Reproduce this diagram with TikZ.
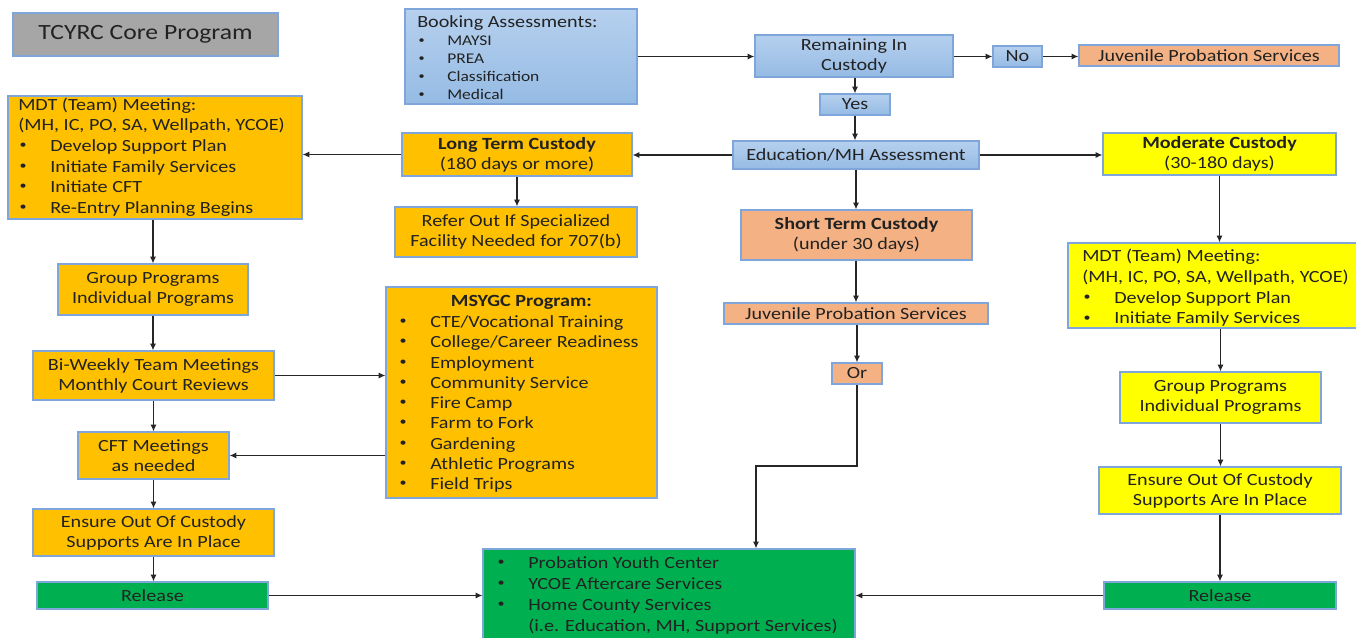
\documentclass[tikz,border=0pt]{standalone}
\usepackage{fontspec}
\setmainfont{Carlito}[FakeStretch=1.18]
\usetikzlibrary{arrows.meta,shadows}
\definecolor{bdr}{HTML}{7FA6DA}
\definecolor{bluetop}{HTML}{B6D0EE}
\definecolor{bluebot}{HTML}{95BBE4}
\definecolor{orng}{HTML}{FFC000}
\definecolor{salmon}{HTML}{F4B183}
\definecolor{yel}{HTML}{FFFF00}
\definecolor{grn}{HTML}{00B050}
\definecolor{gry}{HTML}{A6A6A6}
\definecolor{txt}{HTML}{222222}
\newcommand\smbul{\raisebox{0.35ex}{\scalebox{0.7}{\textbullet}}}
\newcommand\itm[1]{\makebox[24pt][l]{\hspace{1pt}\smbul}#1}
\newcommand\itmb[1]{\makebox[22.5pt][l]{\hspace{1pt}\smbul}#1}
\tikzset{
  every node/.style={text=txt},
  basebox/.style={draw=bdr, line width=0.9pt, inner sep=0pt, align=center,
    drop shadow={shadow xshift=0.8pt, shadow yshift=-0.8pt, opacity=0.25, fill=black},
    font=\fontsize{12.8}{15}\selectfont},
  bluebox/.style={basebox, top color=bluetop, bottom color=bluebot},
  orbox/.style={basebox, fill=orng},
  sabox/.style={basebox, fill=salmon},
  yebox/.style={basebox, fill=yel},
  grbox/.style={basebox, fill=grn},
  grybox/.style={basebox, fill=gry},
  sz/.style n args={2}{minimum width=#1pt, minimum height=#2pt},
  listtxt/.style={align=left, inner sep=0pt, anchor=west, font=\fontsize{12.8}{15.5}\selectfont},
  conn/.style={draw=black!85, line width=0.9pt, -{Latex[length=5pt,width=4.5pt]}}
}
\begin{document}
\begin{tikzpicture}[x=0.75pt,y=-0.75pt]
\useasboundingbox (0,0) rectangle (1356,638);
\fill[white] (0,0) rectangle (1356,638);
% title
\node[grybox, sz={198.75}{32.25}, font=\fontsize{16.3}{19}\selectfont] (title) at (145.5,34.5) {TCYRC Core Program};
% booking
\node[bluebox, sz={174}{71.25}] (booking) at (521,56.5) {};
\node[listtxt, font=\fontsize{11.1}{13.5}\selectfont] (bookingtxt) at (417,58) {{\fontsize{12.8}{13.5}\selectfont Booking Assessments:}\\
\itmb{MAYSI}\\ \itmb{PREA}\\ \itmb{Classification}\\ \itmb{Medical}};
\node[bluebox, sz={148.5}{31.5}] (remain) at (854,56) {Remaining In\\Custody};
\node[bluebox, sz={36.75}{15.75}] (no) at (1017.5,56.5) {No};
\node[sabox, sz={195}{15.75}] (jps1) at (1209,55.5) {Juvenile Probation Services};
\node[bluebox, sz={52.5}{15.75}] (yes) at (855,104.5) {Yes};
\node[bluebox, sz={184.5}{21}] (edu) at (856,155) {Education/MH Assessment};
\node[yebox, sz={174.75}{31.5}] (moderate) at (1219.5,154) {\textbf{Moderate Custody}\\(30-180 days)};
\node[sabox, sz={173.25}{37.5}] (short) at (856.5,235) {\textbf{Short Term Custody}\\(under 30 days)};
\node[orbox, sz={172.5}{32.25}] (long) at (517,154.5) {\textbf{Long Term Custody}\\(180 days or more)};
\node[orbox, sz={181.5}{37.5}] (refer) at (516,232) {Refer Out If Specialized\\Facility Needed for 707(b)};
% left MDT
\node[orbox, sz={220.5}{92.25}] (mdtL) at (155,157.5) {};
\node[listtxt] (mdtLtxt) at (18,157) {MDT (Team) Meeting:\\(MH, IC, PO, SA, Wellpath, YCOE)\\
\itm{Develop Support Plan}\\ \itm{Initiate Family Services}\\ \itm{Initiate CFT}\\ \itm{Re-Entry Planning Begins}};
\node[orbox, sz={142.5}{38.25}] (groupL) at (153,289.5) {Group Programs\\Individual Programs};
\node[orbox, sz={180.75}{36.75}] (biweekly) at (153.5,375.5) {Bi-Weekly Team Meetings\\Monthly Court Reviews};
\node[orbox, sz={113.25}{35.25}] (cft) at (153.5,455.5) {CFT Meetings\\as needed};
\node[orbox, sz={180.75}{35.25}] (ensureL) at (153.5,532.5) {Ensure Out Of Custody\\Supports Are In Place};
\node[grbox, sz={173.25}{20.25}] (releaseL) at (152.5,595.5) {Release};
% MSYGC
\node[orbox, sz={203.25}{158.25}] (msygc) at (521.5,392.5) {};
\node[inner sep=0pt, font=\fontsize{12.8}{15}\selectfont\bfseries] (msygctitle) at (521.5,302) {MSYGC Program:};
\node[listtxt, font=\fontsize{12.8}{15.2}\selectfont] (msygctxt) at (398,404) {\itm{CTE/Vocational Training}\\ \itm{College/Career Readiness}\\
\itm{Employment}\\ \itm{Community Service}\\ \itm{Fire Camp}\\ \itm{Farm to Fork}\\ \itm{Gardening}\\ \itm{Athletic Programs}\\ \itm{Field Trips}};
% green
\node[grbox, sz={279}{68.25}] (green) at (669,594.5) {};
\node[listtxt, font=\fontsize{12.8}{15.75}\selectfont] (greentxt) at (496,595.5) {\itm{Probation Youth Center}\\ \itm{YCOE Aftercare Services}\\
\itm{Home County Services}\\ \hspace*{24pt}(i.e. Education, MH, Support Services)};
% middle column
\node[sabox, sz={198}{15.75}] (jps2) at (856,313.5) {Juvenile Probation Services};
\node[sabox, sz={37.5}{15.75}] (or) at (857,373.5) {Or};
% right column
\node[yebox, sz={223.5}{63.75}] (mdtR) at (1217,285.5) {};
\node[listtxt] (mdtRtxt) at (1082,288) {MDT (Team) Meeting:\\(MH, IC, PO, SA, Wellpath, YCOE)\\
\itm{Develop Support Plan}\\ \itm{Initiate Family Services}};
\node[yebox, sz={150.75}{38.25}] (groupR) at (1220.5,397.5) {Group Programs\\Individual Programs};
\node[yebox, sz={181.5}{35.25}] (ensureR) at (1220,490.5) {Ensure Out Of Custody\\Supports Are In Place};
\node[grbox, sz={174}{20.25}] (releaseR) at (1220,595.5) {Release};
% connectors
\draw[conn] (booking.east) -- (booking.east -| remain.west);
\draw[conn] (remain.east |- no.west) -- (no.west);
\draw[conn] (no.east) -- (no.east -| jps1.west);
\draw[conn] (remain.south -| yes.north) -- (yes.north);
\draw[conn] (yes.south) -- (yes.south |- edu.north);
\draw[conn] (edu.west) -- (edu.west -| long.east);
\draw[conn] (long.west) -- (long.west -| mdtL.east);
\draw[conn] (edu.east) -- (edu.east -| moderate.west);
\draw[conn] (edu.south) -- (edu.south |- short.north);
\draw[conn] (long.south) -- (long.south |- refer.north);
\draw[conn] (moderate.south) -- (moderate.south |- mdtR.north);
\draw[conn] (mdtL.south -| groupL.north) -- (groupL.north);
\draw[conn] (groupL.south) -- (groupL.south |- biweekly.north);
\draw[conn] (biweekly.south) -- (biweekly.south |- cft.north);
\draw[conn] (cft.south) -- (cft.south |- ensureL.north);
\draw[conn] (ensureL.south) -- (ensureL.south |- releaseL.north);
\draw[conn] (biweekly.east) -- (biweekly.east -| msygc.west);
\draw[conn] (cft.east -| msygc.west) -- (cft.east);
\draw[conn] (releaseL.east) -- (releaseL.east -| green.west);
\draw[conn] (releaseR.west) -- (releaseR.west -| green.east);
\draw[conn] (short.south -| jps2.north) -- (jps2.north);
\draw[conn] (jps2.south -| or.north) -- (or.north);
\coordinate (orturn) at (756,466);
\draw[conn] (or.south) |- (orturn) -- (orturn |- green.north);
\draw[conn] (mdtR.south -| groupR.north) -- (groupR.north);
\draw[conn] (groupR.south) -- (groupR.south |- ensureR.north);
\draw[conn] (ensureR.south) -- (ensureR.south |- releaseR.north);
\end{tikzpicture}
\end{document}
